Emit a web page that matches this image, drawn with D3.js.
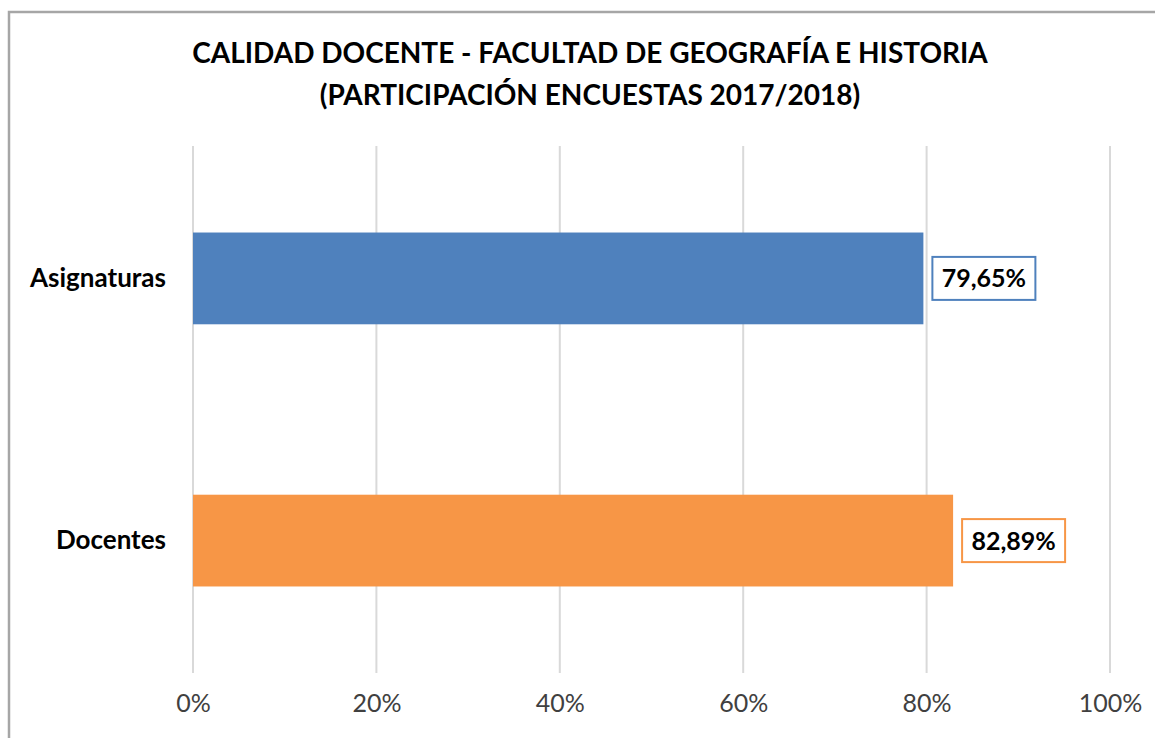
<!DOCTYPE html>
<html><head><meta charset="utf-8">
<script src="https://cdn.jsdelivr.net/npm/d3@7"></script>
<style>
html,body{margin:0;padding:0;background:#fff;}
text{font-family:Lato,"Open Sans",sans-serif;}
</style></head>
<body><svg id="c" width="1155" height="738"></svg>
<script>
const categories = ["Asignaturas", "Docentes"];
const values = [79.65, 82.89];
const labels = ["79,65%", "82,89%"];
const colors = ["#4f81bd", "#f79646"];
const ticks = [0, 20, 40, 60, 80, 100];
const titleLines = ["CALIDAD DOCENTE - FACULTAD DE GEOGRAFÍA E HISTORIA", "(PARTICIPACIÓN ENCUESTAS 2017/2018)"];

const svg = d3.select("#c");
// chart border
svg.append("rect").attr("x", 9).attr("y", 12).attr("width", 1160).attr("height", 740)
  .attr("fill", "#fff").attr("stroke", "#a6a6a6").attr("stroke-width", 2.5);

const x = d3.scaleLinear().domain([0, 100]).range([193, 1110]);
const y = d3.scaleBand().domain(categories).range([146, 673]).paddingInner(0.65).paddingOuter(0.33);

// gridlines
svg.append("g").selectAll("line").data(ticks).join("line")
  .attr("x1", d => x(d)).attr("x2", d => x(d)).attr("y1", 146).attr("y2", 673)
  .attr("stroke", "#d9d9d9").attr("stroke-width", 2);

// axis labels
const xAxis = d3.axisBottom(x).tickValues(ticks).tickFormat(d => d + "%").tickSize(0).tickPadding(0);
const gx = svg.append("g").attr("transform", "translate(0,703)").call(xAxis);
gx.select(".domain").remove();
gx.selectAll("text").attr("font-size", 25).attr("fill", "#404040").attr("font-family", "Lato, 'Open Sans', sans-serif").attr("dy", "0.36em");

// y labels
const yAxis = d3.axisLeft(y).tickSize(0).tickPadding(0);
const gy = svg.append("g").attr("transform", "translate(166,0)").call(yAxis);
gy.select(".domain").remove();
gy.selectAll("text").attr("font-size", 26).attr("font-weight", "bold").attr("fill", "#000").attr("font-family", "Lato, 'Open Sans', sans-serif");

// bars
svg.append("g").selectAll("rect").data(values).join("rect")
  .attr("x", x(0)).attr("y", (d, i) => y(categories[i]))
  .attr("width", d => x(d) - x(0)).attr("height", y.bandwidth())
  .attr("fill", (d, i) => colors[i]);

// data labels
const dl = svg.append("g").selectAll("g").data(values).join("g")
  .attr("transform", (d, i) => `translate(${x(d) + 9},${y(categories[i]) + y.bandwidth() / 2})`);
dl.append("rect").attr("x", 0).attr("y", -21.5).attr("width", 103).attr("height", 43)
  .attr("fill", "#fff").attr("stroke", (d, i) => colors[i]).attr("stroke-width", 2);
dl.append("text").attr("x", 51.5).attr("y", 0).attr("dy", "0.36em").attr("text-anchor", "middle")
  .attr("font-size", 25).attr("font-weight", "bold").attr("fill", "#000")
  .text((d, i) => labels[i]);

// title
svg.append("g").selectAll("text").data(titleLines).join("text")
  .attr("x", 590).attr("y", (d, i) => 53 + i * 42).attr("dy", "0.36em").attr("text-anchor", "middle")
  .attr("font-size", 28).attr("font-weight", "bold").attr("fill", "#000")
  .text(d => d);
</script></body></html>
